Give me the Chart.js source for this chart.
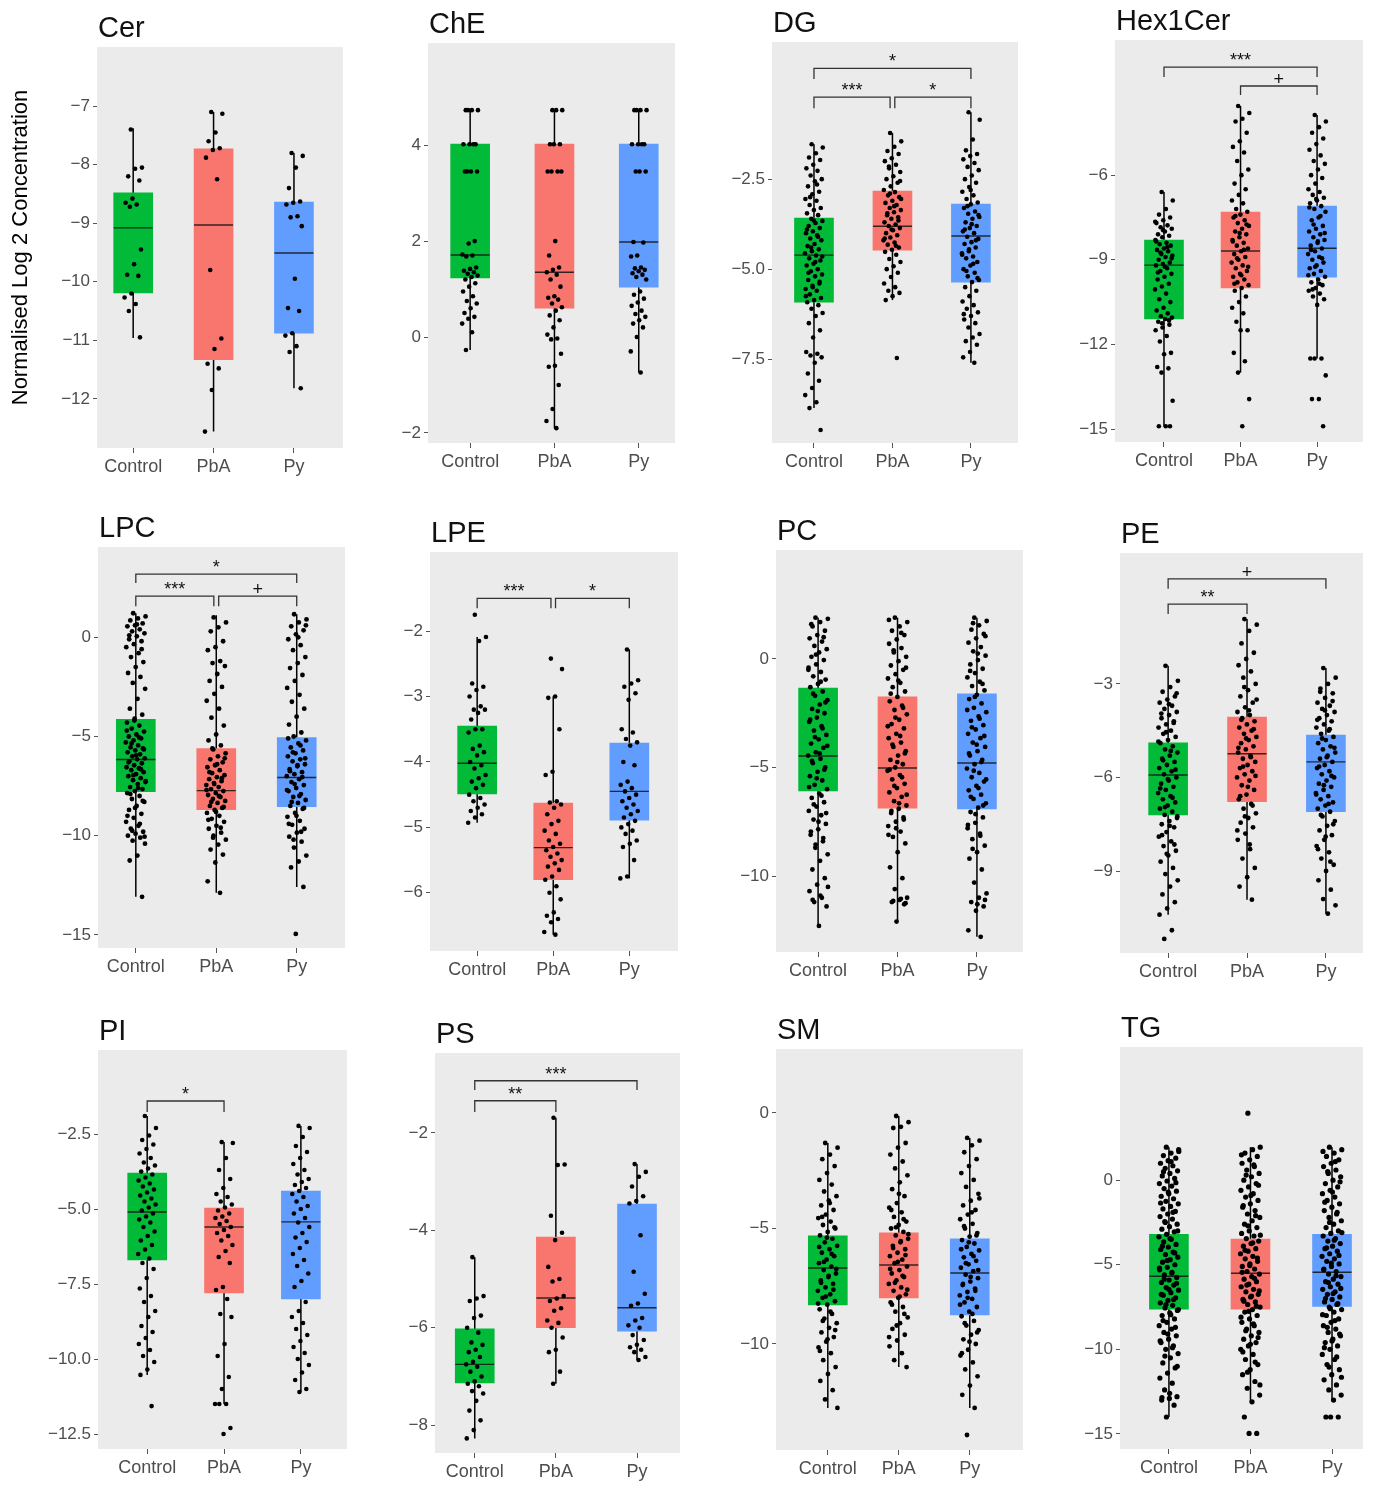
<!DOCTYPE html>
<html>
<head>
<meta charset="utf-8">
<script src="https://cdn.jsdelivr.net/npm/chart.js@4.4.1/dist/chart.umd.min.js"></script>
<style>
  body { margin: 0; background: #fff; width: 1374px; height: 1488px; position: relative; overflow: hidden; }
  .panel { position: absolute; }
</style>
</head>
<body>
<script>
const groups = ['Control', 'PbA', 'Py'];
const boxColors = ['#00ba38', '#f8766d', '#619cff'];

// box stats per group: [lower whisker, q1, median, q3, upper whisker]
const cerBox = [[-10.96, -10.19, -9.08, -8.48, -7.38], [-12.56, -11.33, -9.03, -7.73, -7.1], [-11.82, -10.88, -9.51, -8.64, -7.8]];
const cheBox = [[-0.27, 1.23, 1.71, 4.02, 4.73], [-1.9, 0.6, 1.35, 4.02, 4.73], [-0.74, 1.04, 1.98, 4.02, 4.73]];
const dgBox = [[-8.86, -5.92, -4.61, -3.58, -1.53], [-5.86, -4.47, -3.81, -2.83, -1.22], [-7.6, -5.36, -4.08, -3.19, -0.64]];
const hexBox = [[-14.9, -11.1, -9.19, -8.3, -6.6], [-13.0, -10.0, -8.69, -7.31, -3.55], [-12.5, -9.62, -8.59, -7.1, -3.87]];
const lpcBox = [[-13.08, -7.78, -6.16, -4.14, 1.21], [-12.88, -8.69, -7.73, -5.61, 1.11], [-12.58, -8.54, -7.07, -5.05, 1.16]];
const lpeBox = [[-4.93, -4.49, -4.02, -3.45, -2.09], [-6.64, -5.8, -5.31, -4.63, -3.0], [-5.78, -4.89, -4.45, -3.71, -2.28]];
const pcBox = [[-12.3, -6.08, -4.47, -1.34, 1.9], [-12.1, -6.87, -5.02, -1.75, 1.9], [-12.8, -6.91, -4.79, -1.61, 1.9]];
const peBox = [[-10.4, -7.2, -5.92, -4.89, -2.42], [-9.92, -6.78, -5.24, -4.06, -0.92], [-10.37, -7.1, -5.5, -4.64, -2.49]];
const piBox = [[-10.53, -6.7, -5.1, -3.8, -1.9], [-11.5, -7.8, -5.6, -4.97, -2.77], [-11.1, -8.0, -5.43, -4.4, -2.23]];
const psBox = [[-8.27, -7.13, -6.75, -6.02, -4.55], [-7.15, -6.0, -5.39, -4.14, -1.69], [-6.66, -6.07, -5.59, -3.46, -2.64]];
const smBox = [[-12.77, -8.31, -6.71, -5.32, -1.3], [-11.0, -8.01, -6.58, -5.19, -0.13], [-12.77, -8.74, -6.93, -5.45, -1.08]];
const tgBox = [[-14.0, -7.63, -5.68, -3.2, 1.95], [-13.1, -7.63, -5.5, -3.49, 1.95], [-13.0, -7.46, -5.44, -3.2, 1.95]];

// individual samples
const cerCtl = [-7.4, -8.05, -8.07, -8.2, -8.27, -8.58, -8.65, -8.68, -8.72, -9.45, -9.7, -9.88, -9.9, -10.2, -10.27, -10.38, -10.5, -10.95];
const cerPbA = [-7.1, -7.13, -7.45, -7.6, -7.72, -7.75, -7.88, -8.25, -9.8, -10.97, -11.15, -11.4, -11.48, -11.85, -12.56];
const cerPy = [-7.8, -7.85, -8.05, -8.4, -8.63, -8.65, -8.68, -8.88, -8.9, -9.05, -9.95, -10.45, -10.5, -10.88, -10.92, -11.1, -11.2, -11.82];

const cheCtl = [4.73, 4.73, 4.73, 4.73, 4.02, 4.02, 4.02, 4.02, 3.45, 3.45, 3.45, 3.45, 2.0, 1.95, 1.72, 1.7, 1.68, 1.45, 1.42, 1.38, 1.35, 1.32, 1.28, 1.25, 1.2, 1.12, 1.05, 0.95, 0.85, 0.75, 0.7, 0.6, 0.5, 0.42, 0.38, 0.28, 0.1, -0.27];
const chePbA = [4.73, 4.73, 4.73, 4.02, 4.02, 4.02, 3.45, 3.45, 3.45, 3.45, 2.0, 1.7, 1.45, 1.4, 1.35, 1.3, 1.2, 1.05, 0.85, 0.82, 0.78, 0.7, 0.62, 0.55, 0.45, 0.35, 0.2, 0.05, -0.03, -0.05, -0.35, -0.6, -0.62, -1.0, -1.5, -1.75, -1.9];
const chePy = [4.73, 4.73, 4.73, 4.73, 4.02, 4.02, 4.02, 4.02, 3.45, 3.45, 3.45, 1.98, 1.97, 1.7, 1.68, 1.45, 1.43, 1.4, 1.37, 1.33, 1.3, 1.25, 1.2, 0.95, 0.88, 0.8, 0.72, 0.65, 0.55, 0.48, 0.42, 0.35, 0.28, 0.2, 0.0, -0.3, -0.74];

const dgCtl = [-1.53, -1.62, -1.78, -1.9, -1.97, -2.1, -2.2, -2.27, -2.4, -2.5, -2.56, -2.7, -2.85, -2.92, -3.05, -3.1, -3.22, -3.3, -3.36, -3.45, -3.5, -3.6, -3.66, -3.72, -3.8, -3.86, -3.95, -4.0, -4.06, -4.15, -4.2, -4.3, -4.36, -4.45, -4.5, -4.56, -4.62, -4.7, -4.76, -4.85, -4.9, -5.0, -5.06, -5.15, -5.2, -5.3, -5.4, -5.46, -5.55, -5.6, -5.7, -5.8, -5.86, -5.92, -6.0, -6.1, -6.22, -6.3, -6.5, -6.7, -6.9, -7.3, -7.35, -7.4, -7.45, -7.6, -7.9, -8.1, -8.3, -8.5, -8.7, -8.86, -9.47,
  -3.65, -3.9, -4.1, -4.4, -4.65, -4.8, -5.1, -5.35, -5.5, -5.75, -2.65, -3.0];
const dgPbA = [-1.22, -1.45, -1.6, -1.72, -1.8, -1.92, -2.0, -2.1, -2.2, -2.3, -2.42, -2.5, -2.6, -2.7, -2.8, -2.86, -2.95, -3.0, -3.1, -3.16, -3.22, -3.3, -3.36, -3.42, -3.5, -3.56, -3.6, -3.7, -3.76, -3.8, -3.86, -3.92, -4.0, -4.06, -4.12, -4.2, -4.26, -4.32, -4.4, -4.46, -4.52, -4.6, -4.72, -4.8, -4.92, -5.0, -5.1, -5.22, -5.4, -5.5, -5.6, -5.66, -5.75, -5.86, -7.47,
  -2.9, -3.05, -3.25, -3.45, -3.65, -3.9, -4.15, -4.35, -2.15, -2.55];
const dgPy = [-0.64, -0.85, -1.4, -1.7, -1.8, -1.86, -1.95, -2.05, -2.16, -2.25, -2.4, -2.5, -2.6, -2.72, -2.85, -2.95, -3.05, -3.15, -3.2, -3.3, -3.4, -3.46, -3.55, -3.6, -3.7, -3.8, -3.86, -3.95, -4.0, -4.1, -4.16, -4.25, -4.3, -4.4, -4.5, -4.56, -4.65, -4.7, -4.8, -4.9, -5.0, -5.1, -5.2, -5.3, -5.36, -5.5, -5.6, -5.75, -5.9, -6.0, -6.1, -6.2, -6.3, -6.4, -6.5, -6.62, -6.8, -6.9, -7.0, -7.1, -7.3, -7.45, -7.6,
  -3.25, -3.5, -3.75, -3.9, -4.2, -4.45, -4.6, -4.85, -5.05, -5.25, -2.8, -6.25];

const hexCtl = [-6.6, -6.9, -7.2, -7.4, -7.5, -7.6, -7.7, -7.78, -7.85, -7.9, -8.0, -8.1, -8.15, -8.2, -8.3, -8.4, -8.45, -8.5, -8.6, -8.65, -8.7, -8.8, -8.85, -8.9, -9.0, -9.1, -9.15, -9.2, -9.3, -9.4, -9.5, -9.6, -9.7, -9.85, -9.95, -10.05, -10.2, -10.4, -10.5, -10.7, -10.8, -10.9, -11.0, -11.05, -11.1, -11.2, -11.3, -11.4, -11.5, -11.7, -11.9, -12.3, -12.35, -12.8, -12.85, -13.0, -14.0, -14.9, -14.9, -14.9,
  -7.95, -8.35, -8.55, -8.75, -8.95, -9.25, -9.45, -11.15, -11.25, -7.65];
const hexPbA = [-3.55, -3.8, -4.0, -4.1, -4.5, -4.8, -5.0, -5.2, -5.5, -5.8, -6.0, -6.3, -6.5, -6.7, -6.9, -7.0, -7.2, -7.3, -7.4, -7.5, -7.6, -7.7, -7.8, -7.9, -8.0, -8.1, -8.2, -8.3, -8.4, -8.5, -8.6, -8.7, -8.8, -8.9, -9.0, -9.1, -9.2, -9.3, -9.4, -9.5, -9.6, -9.7, -9.8, -9.9, -10.0, -10.1, -10.3, -10.5, -10.7, -10.9, -11.2, -11.5, -11.5, -12.3, -12.6, -13.0, -13.94, -14.9,
  -7.45, -7.75, -8.05, -8.35, -8.65, -8.95, -9.25, -9.55, -9.85];
const hexPy = [-3.87, -4.1, -4.3, -4.5, -4.7, -4.9, -5.1, -5.3, -5.5, -5.6, -5.8, -6.0, -6.1, -6.3, -6.5, -6.6, -6.7, -6.8, -6.9, -7.0, -7.1, -7.2, -7.3, -7.5, -7.6, -7.8, -7.9, -8.0, -8.1, -8.2, -8.3, -8.4, -8.5, -8.6, -8.7, -8.8, -8.9, -9.0, -9.1, -9.2, -9.3, -9.4, -9.5, -9.6, -9.7, -9.8, -9.9, -10.0, -10.1, -10.2, -10.3, -10.4, -10.6, -12.5, -12.5, -12.5, -13.1, -13.94, -13.94, -14.9,
  -6.85, -7.15, -7.45, -7.75, -8.05, -8.35, -8.65, -8.95, -9.25, -9.55, -9.85, -10.05];

const lpcCtl = [1.21, 1.05, 0.95, 0.85, 0.7, 0.6, 0.55, 0.4, 0.3, 0.2, 0.05, -0.1, -0.2, -0.35, -0.5, -0.8, -1.0, -1.25, -1.5, -1.8, -2.0, -2.3, -2.6, -3.1, -3.6, -3.9, -4.1, -4.3, -4.45, -4.6, -4.75, -4.9, -5.0, -5.1, -5.2, -5.3, -5.45, -5.55, -5.6, -5.7, -5.8, -5.9, -6.0, -6.1, -6.15, -6.25, -6.35, -6.45, -6.55, -6.6, -6.7, -6.8, -6.9, -7.0, -7.1, -7.2, -7.3, -7.4, -7.55, -7.65, -7.75, -7.85, -8.0, -8.15, -8.3, -8.5, -8.7, -8.9, -9.1, -9.3, -9.5, -9.65, -9.8, -9.9, -10.0, -10.1, -10.25, -10.4, -11.0, -11.25, -13.08,
  -4.2, -4.7, -5.05, -5.35, -5.65, -5.95, -6.3, -6.65, -6.95, -7.25, -7.6, -7.9, -8.25, -8.6, -9.0, -9.4, -9.75, -10.05, 0.65, 0.1, -0.6];
const lpcPbA = [1.0, 0.75, 0.5, 0.3, -0.2, -0.5, -0.65, -1.2, -1.3, -1.45, -1.85, -2.2, -2.5, -2.85, -3.2, -3.6, -4.05, -4.45, -4.9, -5.2, -5.45, -5.65, -5.85, -6.0, -6.15, -6.3, -6.45, -6.55, -6.7, -6.85, -6.95, -7.05, -7.15, -7.25, -7.35, -7.45, -7.55, -7.65, -7.75, -7.85, -7.95, -8.05, -8.15, -8.25, -8.35, -8.5, -8.6, -8.7, -8.85, -9.0, -9.15, -9.3, -9.5, -9.65, -9.85, -10.0, -10.2, -10.45, -10.7, -10.95, -11.35, -12.3, -12.88,
  -5.6, -6.1, -6.4, -6.8, -7.1, -7.4, -7.7, -8.0, -8.3, -8.55, -8.8, -9.2, -9.6, -10.1];
const lpcPy = [1.16, 0.9, 0.75, 0.55, 0.35, 0.15, -0.1, -0.4, -0.65, -1.0, -1.3, -1.55, -1.9, -2.2, -2.55, -2.9, -3.25, -3.6, -4.0, -4.4, -4.8, -5.0, -5.2, -5.35, -5.55, -5.7, -5.85, -6.0, -6.15, -6.25, -6.4, -6.5, -6.65, -6.8, -6.9, -7.0, -7.15, -7.3, -7.45, -7.6, -7.75, -7.9, -8.05, -8.2, -8.35, -8.5, -8.65, -8.85, -9.05, -9.25, -9.45, -9.65, -9.85, -10.05, -10.3, -10.6, -11.0, -11.3, -11.6, -12.58, -14.95,
  -5.1, -5.45, -5.8, -6.1, -6.45, -6.75, -7.05, -7.4, -7.7, -8.0, -8.3, -8.6, -9.0, -9.4, -9.8, -10.2, 0.6, 0.0];

const lpeCtl = [-1.75, -2.09, -2.15, -2.8, -2.85, -2.9, -3.0, -3.15, -3.2, -3.2, -3.25, -3.35, -3.5, -3.5, -3.55, -3.75, -3.8, -3.85, -3.9, -4.0, -4.05, -4.1, -4.2, -4.25, -4.3, -4.35, -4.4, -4.5, -4.55, -4.6, -4.65, -4.7, -4.75, -4.8, -4.85, -4.93];
const lpePbA = [-2.42, -2.58, -3.0, -3.02, -3.5, -4.15, -4.2, -4.6, -4.62, -4.65, -4.7, -4.8, -4.9, -4.95, -5.05, -5.1, -5.2, -5.25, -5.3, -5.35, -5.4, -5.45, -5.5, -5.55, -5.6, -5.65, -5.75, -5.8, -5.9, -6.0, -6.1, -6.3, -6.35, -6.4, -6.45, -6.6, -6.64];
const lpePy = [-2.28, -2.75, -2.8, -2.85, -2.95, -3.05, -3.5, -3.55, -3.65, -3.7, -3.75, -4.0, -4.05, -4.3, -4.35, -4.4, -4.45, -4.5, -4.55, -4.6, -4.65, -4.7, -4.75, -4.8, -4.85, -4.9, -4.95, -5.0, -5.05, -5.1, -5.2, -5.25, -5.3, -5.5, -5.75, -5.78];

const pcCtl = [1.9, 1.85, 1.7, 1.5, 1.3, 1.1, 0.95, 0.8, 0.6, 0.45, 0.3, 0.1, -0.05, -0.25, -0.4, -0.6, -0.8, -0.95, -1.15, -1.3, -1.5, -1.7, -1.9, -2.1, -2.3, -2.5, -2.7, -2.9, -3.1, -3.3, -3.5, -3.7, -3.9, -4.1, -4.3, -4.45, -4.6, -4.8, -5.0, -5.2, -5.4, -5.6, -5.8, -6.0, -6.2, -6.4, -6.6, -6.8, -7.0, -7.2, -7.4, -7.6, -7.85, -8.1, -8.4, -8.7, -9.0, -9.3, -9.7, -10.1, -10.4, -10.7, -11.0, -11.2, -11.4, -12.3,
  1.6, 1.0, 0.2, -0.5, -1.05, -1.6, -2.0, -2.4, -2.8, -3.2, -3.6, -4.0, -4.35, -4.7, -5.1, -5.5, -5.9, -6.3, -6.7, -7.1, -7.5, -7.95, -8.25, -8.55, -10.5, -10.9, -11.1];
const pcPbA = [1.9, 1.7, 1.5, 1.3, 1.1, 0.9, 0.7, 0.5, 0.3, 0.1, -0.1, -0.3, -0.5, -0.7, -0.9, -1.1, -1.3, -1.5, -1.75, -1.95, -2.15, -2.35, -2.55, -2.8, -3.0, -3.2, -3.45, -3.65, -3.85, -4.05, -4.25, -4.45, -4.65, -4.85, -5.0, -5.15, -5.35, -5.55, -5.75, -5.95, -6.15, -6.35, -6.55, -6.75, -6.9, -7.1, -7.3, -7.5, -7.7, -7.95, -8.2, -8.5, -8.9, -9.6, -10.1, -10.6, -11.0, -11.1, -11.2, -11.3, -12.1,
  1.8, 1.2, 0.4, -0.4, -1.0, -1.6, -2.25, -2.7, -3.1, -3.55, -3.95, -4.35, -4.75, -5.1, -5.45, -5.85, -6.25, -6.65, -7.0, -7.4, -7.8, -8.1, -11.05, -11.15, -11.25];
const pcPy = [1.9, 1.75, 1.55, 1.35, 1.15, 0.95, 0.75, 0.55, 0.35, 0.15, -0.05, -0.25, -0.45, -0.65, -0.85, -1.05, -1.25, -1.45, -1.65, -1.85, -2.05, -2.25, -2.45, -2.65, -2.85, -3.05, -3.25, -3.45, -3.65, -3.85, -4.05, -4.25, -4.45, -4.65, -4.85, -5.05, -5.25, -5.45, -5.65, -5.85, -6.05, -6.25, -6.45, -6.65, -6.85, -7.05, -7.3, -7.55, -7.8, -8.05, -8.3, -8.6, -8.9, -9.2, -9.7, -10.3, -10.8, -11.0, -11.2, -11.4, -11.6, -12.5, -12.8,
  1.65, 1.05, 0.25, -0.55, -1.15, -1.75, -2.35, -2.75, -3.15, -3.55, -3.95, -4.35, -4.75, -5.15, -5.55, -5.95, -6.35, -6.75, -7.15, -7.65, -8.15, -8.75, -11.1, -11.3];

const peCtl = [-2.42, -2.9, -3.1, -3.25, -3.4, -3.5, -3.6, -3.7, -3.8, -3.9, -4.0, -4.1, -4.2, -4.3, -4.4, -4.5, -4.6, -4.7, -4.8, -4.9, -5.0, -5.1, -5.2, -5.3, -5.4, -5.5, -5.6, -5.7, -5.8, -5.9, -6.0, -6.1, -6.2, -6.3, -6.4, -6.5, -6.6, -6.7, -6.8, -6.9, -7.0, -7.1, -7.2, -7.3, -7.4, -7.5, -7.6, -7.75, -7.9, -8.05, -8.2, -8.35, -8.5, -8.7, -8.9, -9.1, -9.3, -9.5, -9.75, -10.0, -10.2, -10.4, -10.9, -11.18,
  -3.3, -3.65, -3.95, -4.25, -4.55, -4.85, -5.15, -5.45, -5.75, -6.05, -6.35, -6.65, -6.95, -7.25, -7.55, -7.85, -8.15, -8.45];
const pePbA = [-0.92, -1.1, -1.3, -1.7, -2.0, -2.2, -2.4, -2.6, -2.8, -3.0, -3.2, -3.4, -3.6, -3.75, -3.9, -4.0, -4.1, -4.2, -4.3, -4.4, -4.5, -4.6, -4.7, -4.8, -4.9, -5.0, -5.1, -5.2, -5.3, -5.4, -5.5, -5.6, -5.7, -5.8, -5.9, -6.0, -6.1, -6.25, -6.4, -6.55, -6.7, -6.85, -7.0, -7.15, -7.3, -7.45, -7.6, -7.8, -8.0, -8.3, -8.6, -8.9, -9.2, -9.5, -9.92,
  -3.1, -3.5, -3.85, -4.15, -4.45, -4.75, -5.05, -5.35, -5.65, -5.95, -6.3, -6.6, -6.9, -7.25, -7.7, -8.15];
const pePy = [-2.49, -2.8, -3.0, -3.15, -3.3, -3.45, -3.6, -3.7, -3.8, -3.9, -4.0, -4.1, -4.2, -4.3, -4.4, -4.5, -4.6, -4.7, -4.8, -4.9, -5.0, -5.1, -5.2, -5.3, -5.4, -5.5, -5.6, -5.7, -5.8, -5.9, -6.0, -6.1, -6.2, -6.3, -6.4, -6.5, -6.6, -6.7, -6.8, -6.9, -7.0, -7.1, -7.25, -7.4, -7.55, -7.7, -7.85, -8.0, -8.2, -8.4, -8.6, -8.8, -9.0, -9.3, -9.6, -9.9, -10.1, -10.37,
  -3.25, -3.55, -3.85, -4.15, -4.45, -4.75, -5.05, -5.35, -5.65, -5.95, -6.25, -6.55, -6.85, -7.2, -7.5, -7.9, -8.3, -8.7];

const piCtl = [-1.9, -2.3, -2.55, -2.7, -2.85, -3.0, -3.15, -3.3, -3.45, -3.55, -3.65, -3.75, -3.85, -3.95, -4.05, -4.15, -4.25, -4.35, -4.45, -4.55, -4.65, -4.75, -4.85, -4.95, -5.05, -5.15, -5.25, -5.35, -5.45, -5.6, -5.75, -5.9, -6.05, -6.2, -6.35, -6.5, -6.65, -6.8, -7.0, -7.3, -7.65, -7.9, -8.1, -8.4, -8.6, -8.9, -9.1, -9.3, -9.5, -9.7, -9.9, -10.1, -10.35, -10.53, -11.57];
const piPbA = [-2.77, -2.8, -3.3, -3.7, -4.0, -4.3, -4.5, -4.6, -4.75, -4.85, -4.95, -5.05, -5.15, -5.25, -5.3, -5.4, -5.5, -5.6, -5.7, -5.8, -5.9, -6.05, -6.2, -6.4, -6.6, -6.8, -7.6, -7.7, -8.0, -8.5, -8.6, -9.5, -9.9, -10.6, -11.0, -11.5, -11.5, -11.5, -12.3, -12.5];
const piPy = [-2.23, -2.3, -2.6, -2.9, -3.1, -3.3, -3.5, -3.7, -3.85, -4.0, -4.1, -4.2, -4.3, -4.4, -4.5, -4.6, -4.75, -4.9, -5.0, -5.15, -5.3, -5.45, -5.6, -5.8, -5.95, -6.1, -6.3, -6.5, -6.7, -6.9, -7.15, -7.4, -7.6, -8.1, -8.4, -8.6, -8.8, -9.0, -9.2, -9.4, -9.6, -9.8, -10.0, -10.2, -10.45, -10.7, -11.0, -11.1];

const psCtl = [-4.55, -5.35, -5.4, -5.45, -5.75, -5.8, -6.0, -6.1, -6.3, -6.35, -6.45, -6.5, -6.6, -6.7, -6.75, -6.8, -6.9, -7.0, -7.1, -7.15, -7.2, -7.3, -7.35, -7.5, -7.7, -7.9, -8.1, -8.27];
const psPbA = [-1.69, -2.65, -2.66, -3.7, -4.05, -4.2, -4.75, -5.0, -5.05, -5.35, -5.4, -5.45, -5.6, -5.65, -5.85, -5.9, -6.0, -6.2, -6.45, -6.5, -6.9, -7.15];
const psPy = [-2.64, -2.8, -2.9, -3.1, -3.3, -3.4, -3.45, -4.1, -4.85, -5.3, -5.5, -5.55, -5.8, -5.85, -5.95, -6.0, -6.15, -6.25, -6.35, -6.4, -6.45, -6.5, -6.6, -6.66];

const smCtl = [-1.3, -1.5, -1.8, -2.0, -2.3, -2.6, -2.9, -3.1, -3.4, -3.6, -3.8, -4.0, -4.2, -4.4, -4.55, -4.7, -4.85, -5.0, -5.15, -5.3, -5.45, -5.6, -5.75, -5.9, -6.05, -6.2, -6.35, -6.5, -6.65, -6.8, -6.95, -7.1, -7.25, -7.4, -7.55, -7.7, -7.85, -8.0, -8.15, -8.3, -8.5, -8.7, -8.9, -9.1, -9.3, -9.5, -9.7, -9.9, -10.15, -10.4, -10.7, -11.0, -11.3, -11.6, -12.0, -12.4, -12.77,
  -3.9, -4.5, -4.95, -5.4, -5.8, -6.1, -6.45, -6.75, -7.05, -7.35, -7.65, -7.95, -8.25, -8.6, -9.0, -9.4, -9.8, -10.3];
const smPbA = [-0.13, -0.4, -0.6, -0.65, -1.3, -1.5, -1.8, -2.1, -2.4, -2.7, -3.0, -3.3, -3.6, -3.9, -4.1, -4.3, -4.5, -4.7, -4.85, -5.0, -5.15, -5.3, -5.45, -5.6, -5.75, -5.9, -6.05, -6.2, -6.35, -6.5, -6.65, -6.8, -6.95, -7.1, -7.25, -7.4, -7.55, -7.7, -7.85, -8.0, -8.2, -8.4, -8.6, -8.85, -9.1, -9.35, -9.6, -9.85, -10.1, -10.4, -10.7, -11.0,
  -3.5, -4.2, -4.6, -4.95, -5.25, -5.55, -5.85, -6.15, -6.45, -6.75, -7.05, -7.35, -7.65, -7.95, -8.3, -8.7, -9.2, -9.7];
const smPy = [-1.08, -1.2, -1.4, -1.7, -2.0, -2.3, -2.6, -2.9, -3.2, -3.5, -3.8, -4.0, -4.2, -4.4, -4.6, -4.8, -5.0, -5.2, -5.35, -5.5, -5.65, -5.8, -5.95, -6.1, -6.25, -6.4, -6.55, -6.7, -6.85, -7.0, -7.15, -7.3, -7.45, -7.6, -7.75, -7.9, -8.05, -8.2, -8.4, -8.6, -8.8, -9.0, -9.2, -9.4, -9.6, -9.8, -10.0, -10.25, -10.5, -10.8, -11.1, -11.4, -11.8, -12.2, -12.77, -13.94,
  -3.7, -4.3, -4.9, -5.3, -5.6, -5.9, -6.2, -6.5, -6.8, -7.1, -7.4, -7.7, -8.0, -8.3, -8.7, -9.1, -9.5, -9.9, -10.4];

const tgCtl = [1.95, 1.8, 1.6, 1.45, 1.3, 1.15, 1.0, 0.85, 0.7, 0.55, 0.4, 0.25, 0.1, -0.05, -0.2, -0.35, -0.5, -0.65, -0.8, -0.95, -1.1, -1.25, -1.4, -1.55, -1.7, -1.85, -2.0, -2.15, -2.3, -2.45, -2.6, -2.75, -2.9, -3.05, -3.2, -3.35, -3.5, -3.65, -3.8, -3.95, -4.1, -4.25, -4.4, -4.55, -4.7, -4.85, -5.0, -5.15, -5.3, -5.45, -5.6, -5.75, -5.9, -6.05, -6.2, -6.35, -6.5, -6.65, -6.8, -6.95, -7.1, -7.25, -7.4, -7.55, -7.7, -7.85, -8.0, -8.2, -8.4, -8.6, -8.8, -9.0, -9.2, -9.4, -9.6, -9.8, -10.0, -10.25, -10.5, -10.8, -11.1, -11.4, -11.7, -12.0, -12.4, -12.8, -12.9, -13.0, -13.3, -14.0,
  1.7, 1.1, 0.5, -0.15, -0.7, -1.35, -1.9, -2.5, -3.0, -3.45, -3.9, -4.3, -4.75, -5.2, -5.5, -5.85, -6.1, -6.45, -6.75, -7.05, -7.35, -7.65, -7.95, -8.3, -8.7, -9.1, -9.5, -9.9, -10.4, -11.0, -12.6, -12.85];
const tgPbA = [3.96, 1.95, 1.8, 1.6, 1.4, 1.2, 1.0, 0.8, 0.6, 0.4, 0.2, 0.0, -0.2, -0.4, -0.6, -0.8, -1.0, -1.2, -1.4, -1.6, -1.8, -2.0, -2.2, -2.4, -2.6, -2.8, -3.0, -3.15, -3.3, -3.45, -3.6, -3.75, -3.9, -4.05, -4.2, -4.35, -4.5, -4.65, -4.8, -4.95, -5.1, -5.25, -5.4, -5.55, -5.7, -5.85, -6.0, -6.15, -6.3, -6.45, -6.6, -6.75, -6.9, -7.05, -7.2, -7.35, -7.5, -7.65, -7.8, -8.0, -8.2, -8.4, -8.6, -8.8, -9.0, -9.2, -9.4, -9.6, -9.8, -10.0, -10.3, -10.6, -10.9, -11.2, -11.5, -11.9, -12.3, -12.7, -13.1, -14.0, -14.97, -14.97,
  1.5, 0.9, 0.3, -0.3, -0.9, -1.5, -2.1, -2.7, -3.25, -3.7, -4.15, -4.6, -5.05, -5.45, -5.8, -6.2, -6.55, -6.85, -7.15, -7.45, -7.75, -8.1, -8.5, -8.9, -9.3, -9.7, -10.15, -10.75, -11.35, -12.1];
const tgPy = [1.95, 1.8, 1.6, 1.4, 1.2, 1.0, 0.8, 0.6, 0.4, 0.2, 0.0, -0.2, -0.4, -0.6, -0.8, -1.0, -1.2, -1.4, -1.6, -1.8, -2.0, -2.2, -2.4, -2.6, -2.8, -3.0, -3.15, -3.3, -3.45, -3.6, -3.75, -3.9, -4.05, -4.2, -4.35, -4.5, -4.65, -4.8, -4.95, -5.1, -5.25, -5.4, -5.55, -5.7, -5.85, -6.0, -6.15, -6.3, -6.45, -6.6, -6.75, -6.9, -7.05, -7.2, -7.35, -7.5, -7.65, -7.8, -8.0, -8.2, -8.4, -8.6, -8.8, -9.0, -9.2, -9.4, -9.6, -9.8, -10.0, -10.3, -10.6, -10.9, -11.2, -11.5, -11.8, -12.1, -12.4, -12.7, -13.0, -14.0, -14.0, -14.0,
  1.7, 1.1, 0.5, -0.1, -0.7, -1.3, -1.9, -2.5, -3.1, -3.55, -4.0, -4.45, -4.9, -5.3, -5.65, -6.05, -6.4, -6.7, -7.0, -7.3, -7.6, -7.95, -8.3, -8.7, -9.1, -9.5, -9.9, -10.45, -11.05, -11.65];

// y tick values
const cerTicks = [-12, -11, -10, -9, -8, -7];
const cheTicks = [-2, 0, 2, 4];
const dgTicks = [-7.5, -5, -2.5];
const hexTicks = [-15, -12, -9, -6];
const lpcTicks = [-15, -10, -5, 0];
const lpeTicks = [-6, -5, -4, -3, -2];
const pcTicks = [-10, -5, 0];
const peTicks = [-9, -6, -3];
const piTicks = [-12.5, -10, -7.5, -5, -2.5];
const psTicks = [-8, -6, -4, -2];
const smTicks = [-10, -5, 0];
const tgTicks = [-15, -10, -5, 0];

// significance brackets: [from group, to group, bar level, tip level, label]
const dgSig = [[1, 3, 0.58, 0.28, '*'], [1, 1.97, -0.22, -0.53, '***'], [2.03, 3, -0.22, -0.53, '*']];
const hexSig = [[1, 3, -2.17, -2.52, '***'], [2, 3, -2.84, -3.16, '+']];
const lpcSig = [[1, 3, 3.18, 2.73, '*'], [1, 1.97, 2.07, 1.57, '***'], [2.03, 3, 2.07, 1.57, '+']];
const lpeSig = [[1, 1.97, -1.5, -1.65, '***'], [2.03, 3, -1.5, -1.65, '*']];
const peSig = [[1, 3, 0.37, 0.05, '+'], [1, 2, -0.44, -0.76, '**']];
const piSig = [[1, 2, -1.4, -1.77, '*']];
const psSig = [[1, 3, -0.93, -1.12, '***'], [1, 2, -1.34, -1.57, '**']];

// layout: plot rectangle on the page [left, top, right, bottom], axis ranges, jitter width (px), dot radius
const panels = [
  { name: 'Cer', box: cerBox, pts: [cerCtl, cerPbA, cerPy], ticks: cerTicks, dec: 0, sig: [], rect: [97, 47, 343, 448], y: [-12.84, -5.99], x: [0.55, 3.61], jit: 18, r: 2.3 },
  { name: 'ChE', box: cheBox, pts: [cheCtl, chePbA, chePy], ticks: cheTicks, dec: 0, sig: [], rect: [428, 43, 675, 443], y: [-2.21, 6.13], x: [0.5, 3.43], jit: 16, r: 2.3 },
  { name: 'DG', box: dgBox, pts: [dgCtl, dgPbA, dgPy], ticks: dgTicks, dec: 1, sig: dgSig, rect: [772, 42, 1018, 443], y: [-9.83, 1.31], x: [0.465, 3.6], jit: 18, r: 2.3 },
  { name: 'Hex1Cer', box: hexBox, pts: [hexCtl, hexPbA, hexPy], ticks: hexTicks, dec: 0, sig: hexSig, rect: [1115, 40, 1363, 442], y: [-15.46, -1.21], x: [0.36, 3.6], jit: 18, r: 2.3 },
  { name: 'LPC', box: lpcBox, pts: [lpcCtl, lpcPbA, lpcPy], ticks: lpcTicks, dec: 0, sig: lpcSig, rect: [98, 547, 345, 948], y: [-15.66, 4.55], x: [0.53, 3.6], jit: 20, r: 2.4 },
  { name: 'LPE', box: lpeBox, pts: [lpeCtl, lpePbA, lpePy], ticks: lpeTicks, dec: 0, sig: lpeSig, rect: [430, 552, 678, 951], y: [-6.89, -0.79], x: [0.38, 3.64], jit: 18, r: 2.3 },
  { name: 'PC', box: pcBox, pts: [pcCtl, pcPbA, pcPy], ticks: pcTicks, dec: 0, sig: [], rect: [776, 550, 1023, 952], y: [-13.5, 5.02], x: [0.47, 3.58], jit: 20, r: 2.4 },
  { name: 'PE', box: peBox, pts: [peCtl, pePbA, pePy], ticks: peTicks, dec: 0, sig: peSig, rect: [1120, 553, 1363, 953], y: [-11.63, 1.2], x: [0.39, 3.47], jit: 20, r: 2.4 },
  { name: 'PI', box: piBox, pts: [piCtl, piPbA, piPy], ticks: piTicks, dec: 1, sig: piSig, rect: [98, 1050, 347, 1449], y: [-13.0, 0.3], x: [0.36, 3.6], jit: 18, r: 2.3 },
  { name: 'PS', box: psBox, pts: [psCtl, psPbA, psPy], ticks: psTicks, dec: 0, sig: psSig, rect: [435, 1053, 680, 1453], y: [-8.57, -0.36], x: [0.51, 3.53], jit: 18, r: 2.3 },
  { name: 'SM', box: smBox, pts: [smCtl, smPbA, smPy], ticks: smTicks, dec: 0, sig: [], rect: [776, 1049, 1023, 1450], y: [-14.59, 2.77], x: [0.27, 3.75], jit: 20, r: 2.4 },
  { name: 'TG', box: tgBox, pts: [tgCtl, tgPbA, tgPy], ticks: tgTicks, dec: 0, sig: [], rect: [1120, 1047, 1363, 1449], y: [-15.89, 7.87], x: [0.4, 3.38], jit: 20, r: 2.6 }
];

Chart.defaults.font.family = '"Liberation Sans", Arial, sans-serif';
Chart.defaults.animation = false;

// spread the dots sideways, like geom_jitter
const jitter = i => ((i * 0.6180339887 + 0.37) % 1) - 0.5;

// grey panel, facet title and significance brackets
const decor = {
  id: 'decor',
  beforeDraw(chart) {
    const { ctx, chartArea: a } = chart;
    ctx.save();
    ctx.fillStyle = '#ebebeb';
    ctx.fillRect(a.left, a.top, a.right - a.left, a.bottom - a.top);
    ctx.restore();
  },
  afterDraw(chart, args, opts) {
    const { ctx, chartArea: a, scales: { x, y } } = chart;
    ctx.save();
    ctx.fillStyle = '#111';
    ctx.font = '29px "Liberation Sans", Arial, sans-serif';
    ctx.textBaseline = 'alphabetic';
    ctx.fillText(opts.title, a.left + 1, a.top - 10);
    ctx.strokeStyle = '#333';
    ctx.lineWidth = 1.3;
    ctx.textAlign = 'center';
    ctx.font = '18px "Liberation Sans", Arial, sans-serif';
    opts.sig.forEach(([g1, g2, lv, tip, label]) => {
      const x1 = x.getPixelForValue(g1), x2 = x.getPixelForValue(g2);
      const yl = y.getPixelForValue(lv), yt = y.getPixelForValue(tip);
      ctx.beginPath();
      ctx.moveTo(x1, yt); ctx.lineTo(x1, yl); ctx.lineTo(x2, yl); ctx.lineTo(x2, yt);
      ctx.stroke();
      ctx.fillText(label, (x1 + x2) / 2, yl - 1);
    });
    ctx.restore();
  }
};

panels.forEach((p, idx) => {
  const yw = idx === 0 ? 97 : 70;
  const padTop = 50, xh = 34, padR = 6;
  const plotW = p.rect[2] - p.rect[0], plotH = p.rect[3] - p.rect[1];
  const w = plotW + yw + padR, h = plotH + padTop + xh;
  const wrap = document.createElement('div');
  wrap.className = 'panel';
  wrap.style.left = (p.rect[0] - yw) + 'px';
  wrap.style.top = (p.rect[1] - padTop) + 'px';
  wrap.style.width = w + 'px';
  wrap.style.height = h + 'px';
  const canvas = document.createElement('canvas');
  canvas.width = w; canvas.height = h;
  canvas.style.width = w + 'px'; canvas.style.height = h + 'px';
  wrap.appendChild(canvas);
  document.body.appendChild(wrap);

  const unit = plotW / (p.x[1] - p.x[0]);
  const spread = p.jit / unit;
  const dots = [];
  p.pts.forEach((vals, g) => vals.forEach((v, i) => dots.push({ x: g + 1 + jitter(i) * spread, y: v })));

  const whiskers = p.box.map((b, g) => ({
    type: 'line', order: 3,
    data: [{ x: g + 1, y: b[0] }, { x: g + 1, y: b[4] }],
    borderColor: '#000', borderWidth: 1.5, pointRadius: 0, fill: false
  }));

  new Chart(canvas, {
    type: 'scatter',
    data: {
      datasets: [
        { type: 'scatter', order: 0, data: dots, pointRadius: p.r, pointBackgroundColor: '#000', pointBorderWidth: 0 },
        { type: 'scatter', order: 1, data: p.box.map((b, g) => ({ x: g + 1, y: b[2] })),
          pointStyle: 'line', pointRadius: 19.5, pointBorderColor: 'rgba(20,20,20,0.85)', pointBorderWidth: 1.4 },
        { type: 'bar', order: 2, data: p.box.map((b, g) => ({ x: g + 1, y: [b[1], b[3]] })),
          backgroundColor: boxColors, borderWidth: 0, barThickness: 39 },
        ...whiskers
      ]
    },
    options: {
      responsive: false,
      devicePixelRatio: 1,
      layout: { autoPadding: false, padding: { top: padTop, right: padR, left: 0, bottom: 0 } },
      plugins: {
        legend: { display: false },
        tooltip: { enabled: false },
        decor: { title: p.name, sig: p.sig }
      },
      scales: {
        x: {
          type: 'linear', min: p.x[0], max: p.x[1], offset: false,
          afterBuildTicks: s => { s.ticks = [1, 2, 3].map(v => ({ value: v })); },
          afterFit: s => { s.height = xh; },
          ticks: { callback: v => groups[v - 1], color: '#4d4d4d', font: { size: 18 }, padding: 3, autoSkip: false, maxRotation: 0 },
          grid: { display: true, offset: false, drawOnChartArea: false, drawTicks: true, tickLength: 5, tickColor: '#555', tickWidth: 1 },
          border: { display: false }
        },
        y: {
          type: 'linear', min: p.y[0], max: p.y[1],
          afterBuildTicks: s => { s.ticks = p.ticks.map(v => ({ value: v })); },
          afterFit: s => { s.width = yw; },
          ticks: {
            callback: v => (v < 0 ? '\u2212' : '') + Math.abs(v).toFixed(p.dec),
            color: '#4d4d4d', font: { size: 17 }, padding: 3, autoSkip: false
          },
          grid: { display: true, drawOnChartArea: false, drawTicks: true, tickLength: 4, tickColor: '#555', tickWidth: 1 },
          border: { display: false },
          title: {
            display: idx === 0, text: 'Normalised Log 2 Concentration',
            color: '#000', font: { size: 22 }, padding: { top: 8, bottom: 0 }
          }
        }
      }
    },
    plugins: [decor]
  });
});
</script>
</body>
</html>
